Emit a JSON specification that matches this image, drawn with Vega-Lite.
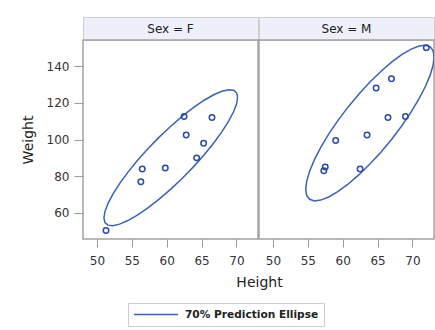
{
  "$schema": "https://vega.github.io/schema/vega-lite/v6.json",
  "bounds": "flush",
  "padding": {"left": 20, "top": 16, "right": 0, "bottom": 0},
  "background": "white",
  "datasets": {
    "classdata": [
      {"Name": "Alfred", "Sex": "M", "Height": 69.0, "Weight": 112.5},
      {"Name": "Alice", "Sex": "F", "Height": 56.5, "Weight": 84.0},
      {"Name": "Barbara", "Sex": "F", "Height": 65.3, "Weight": 98.0},
      {"Name": "Carol", "Sex": "F", "Height": 62.8, "Weight": 102.5},
      {"Name": "Henry", "Sex": "M", "Height": 63.5, "Weight": 102.5},
      {"Name": "James", "Sex": "M", "Height": 57.3, "Weight": 83.0},
      {"Name": "Jane", "Sex": "F", "Height": 59.8, "Weight": 84.5},
      {"Name": "Janet", "Sex": "F", "Height": 62.5, "Weight": 112.5},
      {"Name": "Jeffrey", "Sex": "M", "Height": 62.5, "Weight": 84.0},
      {"Name": "John", "Sex": "M", "Height": 59.0, "Weight": 99.5},
      {"Name": "Joyce", "Sex": "F", "Height": 51.3, "Weight": 50.5},
      {"Name": "Judy", "Sex": "F", "Height": 64.3, "Weight": 90.0},
      {"Name": "Louise", "Sex": "F", "Height": 56.3, "Weight": 77.0},
      {"Name": "Mary", "Sex": "F", "Height": 66.5, "Weight": 112.0},
      {"Name": "Philip", "Sex": "M", "Height": 72.0, "Weight": 150.0},
      {"Name": "Robert", "Sex": "M", "Height": 64.8, "Weight": 128.0},
      {"Name": "Ronald", "Sex": "M", "Height": 67.0, "Weight": 133.0},
      {"Name": "Thomas", "Sex": "M", "Height": 57.5, "Weight": 85.0},
      {"Name": "William", "Sex": "M", "Height": 66.5, "Weight": 112.0}
    ],
    "ellipse": [
      {"Sex": "F", "i": 0, "Height": 70.176, "Weight": 122.939},
      {"Sex": "F", "i": 1, "Height": 70.030, "Weight": 125.414},
      {"Sex": "F", "i": 2, "Height": 69.598, "Weight": 126.819},
      {"Sex": "F", "i": 3, "Height": 68.891, "Weight": 127.106},
      {"Sex": "F", "i": 4, "Height": 67.932, "Weight": 126.269},
      {"Sex": "F", "i": 5, "Height": 66.751, "Weight": 124.335},
      {"Sex": "F", "i": 6, "Height": 65.382, "Weight": 121.360},
      {"Sex": "F", "i": 7, "Height": 63.868, "Weight": 117.436},
      {"Sex": "F", "i": 8, "Height": 62.253, "Weight": 112.681},
      {"Sex": "F", "i": 9, "Height": 60.589, "Weight": 107.242},
      {"Sex": "F", "i": 10, "Height": 58.925, "Weight": 101.283},
      {"Sex": "F", "i": 11, "Height": 57.310, "Weight": 94.982},
      {"Sex": "F", "i": 12, "Height": 55.796, "Weight": 88.532},
      {"Sex": "F", "i": 13, "Height": 54.427, "Weight": 82.131},
      {"Sex": "F", "i": 14, "Height": 53.246, "Weight": 75.977},
      {"Sex": "F", "i": 15, "Height": 52.287, "Weight": 70.248},
      {"Sex": "F", "i": 16, "Height": 51.581, "Weight": 65.121},
      {"Sex": "F", "i": 17, "Height": 51.148, "Weight": 60.756},
      {"Sex": "F", "i": 18, "Height": 51.002, "Weight": 57.283},
      {"Sex": "F", "i": 19, "Height": 51.148, "Weight": 54.808},
      {"Sex": "F", "i": 20, "Height": 51.581, "Weight": 53.403},
      {"Sex": "F", "i": 21, "Height": 52.287, "Weight": 53.116},
      {"Sex": "F", "i": 22, "Height": 53.246, "Weight": 53.953},
      {"Sex": "F", "i": 23, "Height": 54.427, "Weight": 55.887},
      {"Sex": "F", "i": 24, "Height": 55.796, "Weight": 58.862},
      {"Sex": "F", "i": 25, "Height": 57.310, "Weight": 62.786},
      {"Sex": "F", "i": 26, "Height": 58.925, "Weight": 67.541},
      {"Sex": "F", "i": 27, "Height": 60.589, "Weight": 72.980},
      {"Sex": "F", "i": 28, "Height": 62.253, "Weight": 78.939},
      {"Sex": "F", "i": 29, "Height": 63.868, "Weight": 85.240},
      {"Sex": "F", "i": 30, "Height": 65.382, "Weight": 91.690},
      {"Sex": "F", "i": 31, "Height": 66.751, "Weight": 98.091},
      {"Sex": "F", "i": 32, "Height": 67.932, "Weight": 104.245},
      {"Sex": "F", "i": 33, "Height": 68.891, "Weight": 109.974},
      {"Sex": "F", "i": 34, "Height": 69.598, "Weight": 115.101},
      {"Sex": "F", "i": 35, "Height": 70.030, "Weight": 119.466},
      {"Sex": "F", "i": 36, "Height": 70.176, "Weight": 122.939},
      {"Sex": "M", "i": 0, "Height": 73.117, "Weight": 144.974},
      {"Sex": "M", "i": 1, "Height": 72.977, "Weight": 148.300},
      {"Sex": "M", "i": 2, "Height": 72.562, "Weight": 150.434},
      {"Sex": "M", "i": 3, "Height": 71.884, "Weight": 151.306},
      {"Sex": "M", "i": 4, "Height": 70.963, "Weight": 150.889},
      {"Sex": "M", "i": 5, "Height": 69.829, "Weight": 149.201},
      {"Sex": "M", "i": 6, "Height": 68.514, "Weight": 146.289},
      {"Sex": "M", "i": 7, "Height": 67.059, "Weight": 142.241},
      {"Sex": "M", "i": 8, "Height": 65.508, "Weight": 137.182},
      {"Sex": "M", "i": 9, "Height": 63.910, "Weight": 131.267},
      {"Sex": "M", "i": 10, "Height": 62.312, "Weight": 124.674},
      {"Sex": "M", "i": 11, "Height": 60.761, "Weight": 117.601},
      {"Sex": "M", "i": 12, "Height": 59.306, "Weight": 110.265},
      {"Sex": "M", "i": 13, "Height": 57.992, "Weight": 102.889},
      {"Sex": "M", "i": 14, "Height": 56.857, "Weight": 95.701},
      {"Sex": "M", "i": 15, "Height": 55.937, "Weight": 88.912},
      {"Sex": "M", "i": 16, "Height": 55.258, "Weight": 82.730},
      {"Sex": "M", "i": 17, "Height": 54.843, "Weight": 77.348},
      {"Sex": "M", "i": 18, "Height": 54.703, "Weight": 72.926},
      {"Sex": "M", "i": 19, "Height": 54.843, "Weight": 69.600},
      {"Sex": "M", "i": 20, "Height": 55.258, "Weight": 67.466},
      {"Sex": "M", "i": 21, "Height": 55.937, "Weight": 66.594},
      {"Sex": "M", "i": 22, "Height": 56.857, "Weight": 67.011},
      {"Sex": "M", "i": 23, "Height": 57.992, "Weight": 68.699},
      {"Sex": "M", "i": 24, "Height": 59.306, "Weight": 71.611},
      {"Sex": "M", "i": 25, "Height": 60.761, "Weight": 75.659},
      {"Sex": "M", "i": 26, "Height": 62.312, "Weight": 80.718},
      {"Sex": "M", "i": 27, "Height": 63.910, "Weight": 86.633},
      {"Sex": "M", "i": 28, "Height": 65.508, "Weight": 93.226},
      {"Sex": "M", "i": 29, "Height": 67.059, "Weight": 100.299},
      {"Sex": "M", "i": 30, "Height": 68.514, "Weight": 107.635},
      {"Sex": "M", "i": 31, "Height": 69.829, "Weight": 115.011},
      {"Sex": "M", "i": 32, "Height": 70.963, "Weight": 122.199},
      {"Sex": "M", "i": 33, "Height": 71.884, "Weight": 128.988},
      {"Sex": "M", "i": 34, "Height": 72.562, "Weight": 135.170},
      {"Sex": "M", "i": 35, "Height": 72.977, "Weight": 140.552},
      {"Sex": "M", "i": 36, "Height": 73.117, "Weight": 144.974}
    ],
    "headers": [
      {"Sex": "F", "label": "Sex = F"},
      {"Sex": "M", "label": "Sex = M"}
    ]
  },
  "columns": 2,
  "spacing": {"row": 0, "column": 1},
  "concat": [
    {
      "width": 175, "height": 23,
      "view": {"fill": "#edf0f9", "stroke": "#cfcfcf"},
      "data": {"name": "headers"},
      "transform": [{"filter": "datum.Sex === 'F'"}],
      "mark": {"type": "text", "font": "DejaVu Sans", "fontSize": 12, "color": "#222", "baseline": "middle"},
      "encoding": {
        "x": {"field": "label", "type": "nominal", "axis": null},
        "y": {"field": "label", "type": "nominal", "axis": null},
        "text": {"field": "label"}
      }
    },
    {
      "width": 175, "height": 23,
      "view": {"fill": "#edf0f9", "stroke": "#cfcfcf"},
      "data": {"name": "headers"},
      "transform": [{"filter": "datum.Sex === 'M'"}],
      "mark": {"type": "text", "font": "DejaVu Sans", "fontSize": 12, "color": "#222", "baseline": "middle"},
      "encoding": {
        "x": {"field": "label", "type": "nominal", "axis": null},
        "y": {"field": "label", "type": "nominal", "axis": null},
        "text": {"field": "label"}
      }
    },
    {
      "width": 175, "height": 199,
      "view": {"stroke": "#a3a3a3", "strokeWidth": 1.5},
      "layer": [
        {
          "data": {"name": "ellipse"},
          "transform": [{"filter": "datum.Sex === 'F'"}],
          "mark": {"type": "line", "strokeWidth": 1.5, "clip": true},
          "encoding": {
            "x": {"field": "Height", "type": "quantitative", "scale": {"domain": [48, 73.1], "nice": false, "zero": false},
                  "axis": {"values": [50, 55, 60, 65, 70], "tickSize": 8, "labelPadding": 8, "title": "Height", "titleX": 176, "titlePadding": 9}},
            "y": {"field": "Weight", "type": "quantitative", "scale": {"domain": [45.85, 154.15], "nice": false, "zero": false},
                  "axis": {"values": [60, 80, 100, 120, 140], "tickSize": 9, "labelPadding": 5, "title": "Weight", "titlePadding": 11}},
            "order": {"field": "i", "type": "quantitative"},
            "color": {"datum": "70% Prediction Ellipse", "type": "nominal",
                      "scale": {"range": ["#3a62b5"]},
                      "legend": {"title": null, "orient": "none", "legendX": 45, "legendY": 286,
                                 "symbolType": "stroke", "symbolSize": 1936, "symbolStrokeWidth": 1.5, "clipHeight": 13,
                                 "labelFont": "DejaVu Sans", "labelFontSize": 10.6, "labelFontWeight": "bold", "labelColor": "#222",
                                 "strokeColor": "#cccccc", "padding": 5, "labelOffset": 6}}
          }
        },
        {
          "data": {"name": "classdata"},
          "transform": [{"filter": "datum.Sex === 'F'"}],
          "mark": {"type": "point", "shape": "circle", "filled": false, "size": 30, "strokeWidth": 1.5, "color": "#2b4aa8", "opacity": 1},
          "encoding": {
            "x": {"field": "Height", "type": "quantitative"},
            "y": {"field": "Weight", "type": "quantitative"}
          }
        }
      ]
    },
    {
      "width": 175, "height": 199,
      "view": {"stroke": "#a3a3a3", "strokeWidth": 1.5},
      "layer": [
        {
          "data": {"name": "ellipse"},
          "transform": [{"filter": "datum.Sex === 'M'"}],
          "mark": {"type": "line", "strokeWidth": 1.5, "clip": true},
          "encoding": {
            "x": {"field": "Height", "type": "quantitative", "scale": {"domain": [48, 73.1], "nice": false, "zero": false},
                  "axis": {"values": [50, 55, 60, 65, 70], "tickSize": 8, "labelPadding": 8, "title": null}},
            "y": {"field": "Weight", "type": "quantitative", "scale": {"domain": [45.85, 154.15], "nice": false, "zero": false}, "axis": null},
            "order": {"field": "i", "type": "quantitative"},
            "color": {"datum": "70% Prediction Ellipse", "type": "nominal"}
          }
        },
        {
          "data": {"name": "classdata"},
          "transform": [{"filter": "datum.Sex === 'M'"}],
          "mark": {"type": "point", "shape": "circle", "filled": false, "size": 30, "strokeWidth": 1.5, "color": "#2b4aa8", "opacity": 1},
          "encoding": {
            "x": {"field": "Height", "type": "quantitative"},
            "y": {"field": "Weight", "type": "quantitative"}
          }
        }
      ]
    }
  ],
  "config": {
    "axis": {
      "labelFont": "DejaVu Sans", "labelFontSize": 12, "labelColor": "#333333",
      "titleFont": "DejaVu Sans", "titleFontSize": 14, "titleFontWeight": "normal", "titleColor": "#222222",
      "tickColor": "#9a9a9a", "domain": false, "grid": false
    }
  }
}
